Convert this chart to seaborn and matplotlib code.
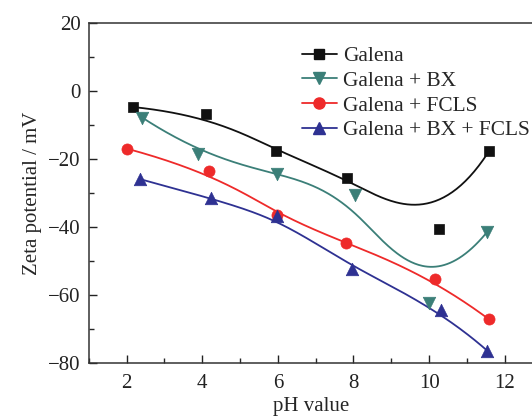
import numpy as np
import pandas as pd
import matplotlib
matplotlib.use("Agg")
import matplotlib.pyplot as plt
from matplotlib.lines import Line2D
from matplotlib.ticker import MultipleLocator
import seaborn as sns

# ---- data ----
series_names = ["Galena", "Galena + BX", "Galena + FCLS", "Galena + BX + FCLS"]
ph_galena = [2.16, 4.09, 5.94, 7.84, 10.26, 11.59]
zeta_galena = [-4.7, -6.9, -17.6, -25.7, -40.7, -17.6]
ph_bx = [2.41, 3.89, 5.99, 8.03, 10.0, 11.54]
zeta_bx = [-7.8, -18.5, -24.4, -30.6, -62.3, -41.4]
ph_fcls = [2.02, 4.18, 5.97, 7.81, 10.15, 11.59]
zeta_fcls = [-17.0, -23.5, -36.5, -44.6, -55.3, -67.2]
ph_bxfcls = [2.35, 4.22, 5.97, 7.97, 10.31, 11.54]
zeta_bxfcls = [-25.9, -31.6, -36.7, -52.4, -64.4, -76.4]

colors = ["#111111", "#3b7f78", "#ee2a2a", "#2e3192"]
markers = ["s", "v", "o", "^"]
msizes = [7, 9, 8, 9]

sns.set_theme(style="ticks")
plt.rcParams["font.family"] = ["Liberation Serif", "DejaVu Serif"]
plt.rcParams["mathtext.fontset"] = "stix"


def bspline(px, py, n=300):
    """Clamped uniform cubic B-spline using the data points as control points."""
    P = np.column_stack([px, py])
    m = len(P)
    k = 3
    inner = np.arange(1, m - k)
    knots = np.concatenate([[0] * (k + 1), inner, [m - k] * (k + 1)]).astype(float)
    ts = np.linspace(0, m - k, n)
    out = []
    for t in ts:
        if t >= knots[m]:
            s = m - 1
        else:
            s = np.searchsorted(knots, t, side="right") - 1
        d = [P[j + s - k].copy() for j in range(k + 1)]
        for r in range(1, k + 1):
            for j in range(k, r - 1, -1):
                i = j + s - k
                denom = knots[i + k + 1 - r] - knots[i]
                a = 0.0 if denom == 0 else (t - knots[i]) / denom
                d[j] = (1 - a) * d[j - 1] + a * d[j]
        out.append(d[k])
    out = np.array(out)
    return out[:, 0], out[:, 1]


fig = plt.figure(figsize=(5.32, 4.16), dpi=100)
ax = fig.add_axes([0.167, 0.1274, 0.835, 0.8173])

all_x = [ph_galena, ph_bx, ph_fcls, ph_bxfcls]
all_y = [zeta_galena, zeta_bx, zeta_fcls, zeta_bxfcls]

handles = []
for name, xs, ys, c, mk, ms in zip(series_names, all_x, all_y, colors, markers, msizes):
    cx, cy = bspline(xs, ys)
    curve = pd.DataFrame({"x": cx, "y": cy})
    sns.lineplot(data=curve, x="x", y="y", sort=False, estimator=None,
                 color=c, lw=1.3, ax=ax, legend=False)
    pts = pd.DataFrame({"x": xs, "y": ys})
    sns.scatterplot(data=pts, x="x", y="y", marker=mk, s=ms ** 2, color=c,
                    edgecolor=c, linewidth=0.5, ax=ax, legend=False, zorder=3)
    handles.append(Line2D([0], [0], color=c, lw=1.3, marker=mk, markersize=ms,
                          markeredgecolor=c, label=name))

ax.set_xlim(1.0, 12.75)
ax.set_ylim(-80, 20)
ax.xaxis.set_minor_locator(MultipleLocator(1))
ax.yaxis.set_minor_locator(MultipleLocator(10))
ax.set_xticks([2, 4, 6, 8, 10, 12])
ax.set_xticklabels(["2", "4", "6", "8", "10", "12"])
ax.set_yticks([-80, -60, -40, -20, 0, 20])
ax.set_yticklabels(["\u221280", "\u221260", "\u221240", "\u221220", "0", "20"])

ax.tick_params(axis="x", which="major", pad=8)
ax.tick_params(axis="y", which="major", pad=6)
ax.tick_params(axis="both", which="major", direction="in", length=6, width=1,
               labelsize=15, colors="#222222", top=False, right=False)
ax.tick_params(axis="both", which="minor", direction="in", length=3.5, width=1,
               top=False, right=False)
for s in ["left", "bottom", "top"]:
    ax.spines[s].set_linewidth(1.1)
    ax.spines[s].set_color("#333333")
ax.spines["right"].set_visible(False)

ax.set_xlabel("pH value", fontsize=15, labelpad=2.5)
ax.set_ylabel("Zeta potential / mV", fontsize=15, labelpad=4)

leg = ax.legend(handles=handles, loc="upper left", bbox_to_anchor=(0.46, 0.957),
                frameon=False, fontsize=15.4, handlelength=1.65, handletextpad=0.3,
                labelspacing=0.22, borderaxespad=0)

fig.savefig("out.png", dpi=100)
